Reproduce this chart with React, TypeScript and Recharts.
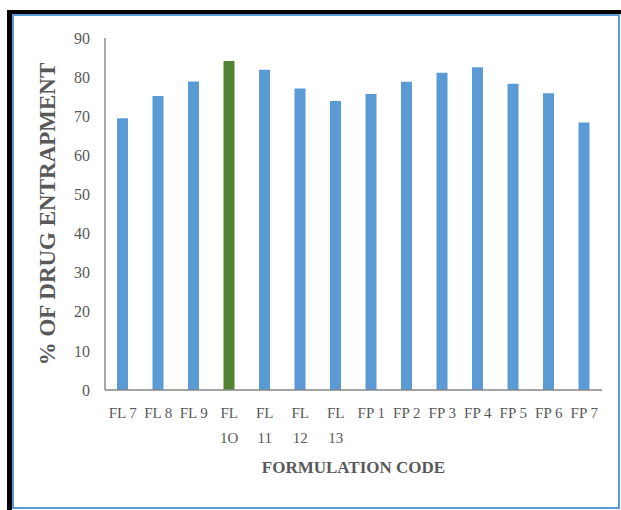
import { BarChart, Bar, XAxis, YAxis, Cell, Label } from 'recharts'

// Formulation codes; "\n" marks where a tick label breaks onto a second line
const formulations = [
  'FL 7', 'FL 8', 'FL 9', 'FL\n1O', 'FL\n11', 'FL\n12', 'FL\n13',
  'FP 1', 'FP 2', 'FP 3', 'FP 4', 'FP 5', 'FP 6', 'FP 7',
]
const entrapment = [69.5, 75.2, 78.9, 84.1, 81.9, 77.1, 73.9, 75.7, 78.8, 81.1, 82.5, 78.3, 75.9, 68.4]
const yTicks = [0, 10, 20, 30, 40, 50, 60, 70, 80, 90]
const bestFormulation = 'FL\n1O'

const data = formulations.map((code, i) => ({ code, value: entrapment[i] }))

const FONT = '"Liberation Serif", "Times New Roman", serif'
const TEXT_GRAY = '#595959'
const BLUE = '#5B9BD5'
const GREEN = '#548235'

function CodeTick({ x, y, payload }: any) {
  const lines = String(payload.value).split('\n')
  return (
    <text x={x} y={y} textAnchor="middle" fill={TEXT_GRAY} fontSize={15} fontFamily={FONT}>
      {lines.map((line, i) => (
        <tspan key={i} x={x} dy={i === 0 ? 28 : 25}>
          {line}
        </tspan>
      ))}
    </text>
  )
}

export default function App() {
  return (
    <div style={{ position: 'absolute', left: 0, top: 0, width: 621, height: 510, background: 'white' }}>
      {/* frame: heavy black edge on top/left, thin blue border inside */}
      <div
        style={{
          position: 'absolute',
          left: 7,
          top: 10,
          width: 614,
          height: 500,
          borderLeft: '5px solid #000',
          borderTop: '4px solid #000',
          boxSizing: 'border-box',
        }}
      />
      <div
        style={{
          position: 'absolute',
          left: 12,
          top: 14,
          width: 608,
          height: 495,
          border: `2px solid ${BLUE}`,
          boxSizing: 'border-box',
        }}
      />
      <div style={{ position: 'absolute', left: 0, top: 0 }}>
        <BarChart
          width={621}
          height={510}
          data={data}
          barSize={11}
          margin={{ top: 38, right: 19, left: 65, bottom: 60 }}
        >
          <XAxis
            dataKey="code"
            interval={0}
            height={60}
            tickLine={false}
            tickSize={0}
            tickMargin={0}
            axisLine={{ stroke: '#868686', strokeWidth: 1.5 }}
            tick={<CodeTick />}
          >
            <Label
              value="FORMULATION CODE"
              position="bottom"
              offset={11}
              fill={TEXT_GRAY}
              fontSize={17}
              fontWeight="bold"
              fontFamily={FONT}
            />
          </XAxis>
          <YAxis
            domain={[0, 90]}
            ticks={yTicks}
            width={40}
            tickLine={false}
            tickMargin={9}
            axisLine={{ stroke: '#6f6f6f', strokeWidth: 1.2 }}
            tick={{ fill: TEXT_GRAY, fontSize: 16, fontFamily: FONT }}
          >
            <Label
              value="% OF DRUG ENTRAPMENT"
              angle={-90}
              position="left"
              offset={18}
              textAnchor="middle"
              fill={TEXT_GRAY}
              fontSize={23}
              fontWeight="bold"
              fontFamily={FONT}
            />
          </YAxis>
          <Bar dataKey="value" isAnimationActive={false}>
            {data.map((d) => (
              <Cell key={d.code} fill={d.code === bestFormulation ? GREEN : BLUE} />
            ))}
          </Bar>
        </BarChart>
      </div>
    </div>
  )
}
